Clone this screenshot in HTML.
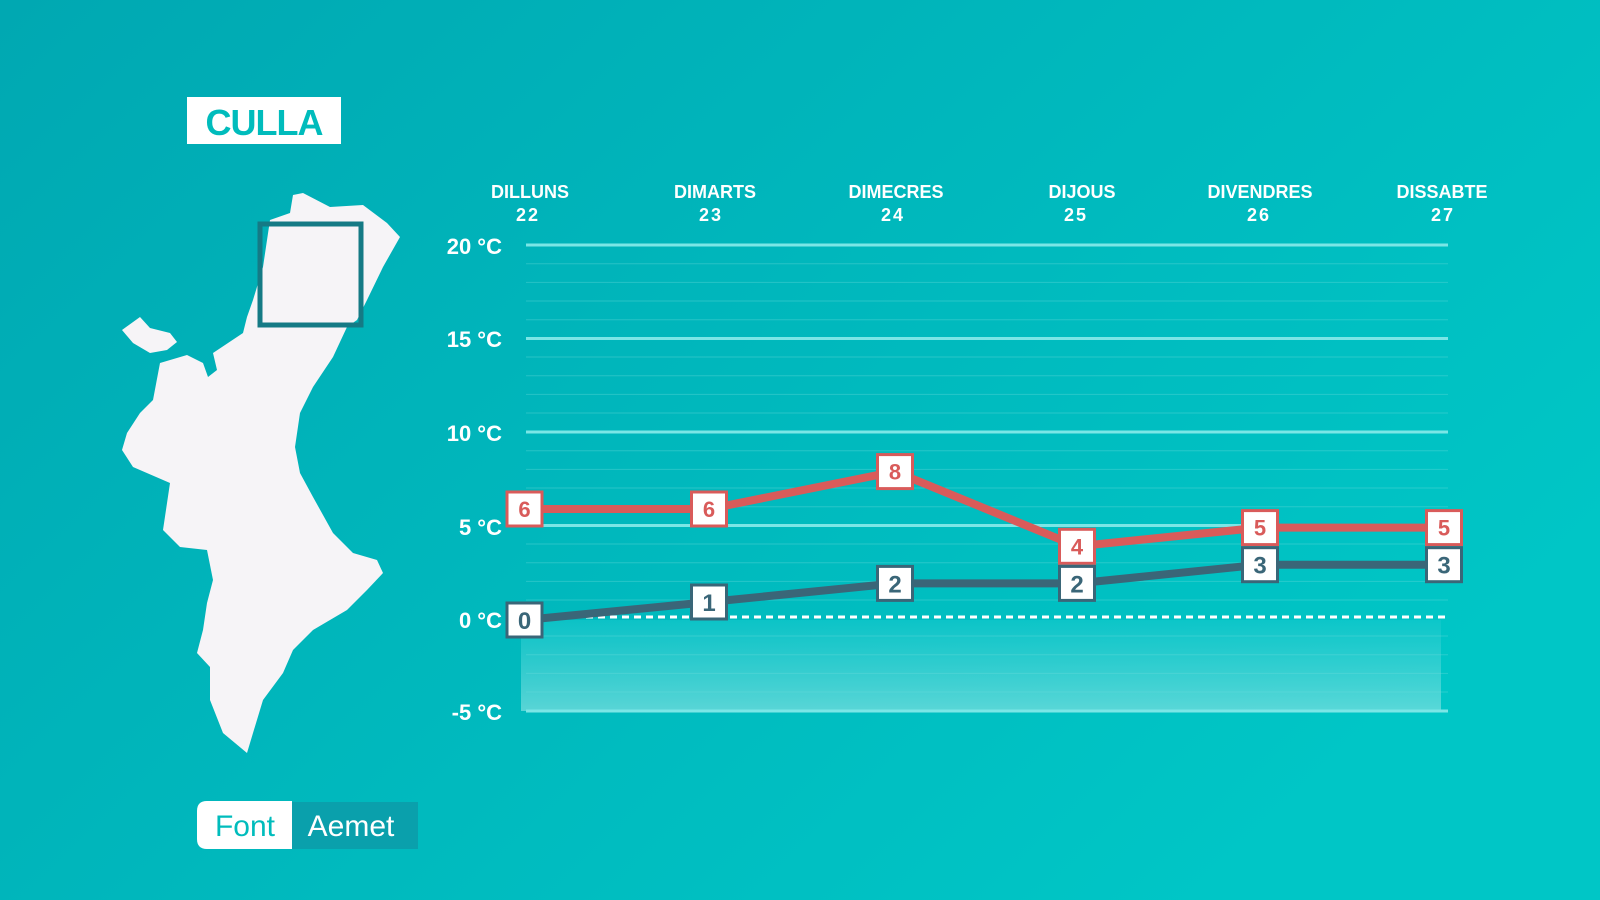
<!DOCTYPE html>
<html><head><meta charset="utf-8"><style>
html,body{margin:0;padding:0;width:1600px;height:900px;overflow:hidden}
svg{display:block}
text{font-family:"Liberation Sans",sans-serif;font-weight:bold}
</style></head><body>
<svg width="1600" height="900" viewBox="0 0 1600 900" xmlns="http://www.w3.org/2000/svg">
<defs>
<linearGradient id="bg" x1="0" y1="0" x2="1" y2="0.6">
<stop offset="0" stop-color="#00a8b2"/><stop offset="1" stop-color="#00c6c6"/>
</linearGradient>
<linearGradient id="neg" x1="0" y1="0" x2="0" y2="1">
<stop offset="0" stop-color="#14c8cc" stop-opacity="0.6"/><stop offset="1" stop-color="#7fe0e0" stop-opacity="0.7"/>
</linearGradient>
</defs>
<rect width="1600" height="900" fill="url(#bg)"/>
<!-- title -->
<rect x="187" y="97" width="154" height="47" fill="#fff"/>
<text x="264" y="135" text-anchor="middle" font-size="36" fill="#00bcbc" style="font-weight:900" letter-spacing="-1">CULLA</text>
<!-- map -->
<polygon fill="#f6f4f7" points="293,195 303,193 330,207 363,205 387,223 400,237 383,267 367,300 357,320 347,327 333,357 313,387 300,413 295,447 300,473 313,497 333,533 353,553 377,560 383,573 367,590 347,610 313,630 293,650 283,673 263,700 253,733 247,753 223,733 210,700 210,667 197,653 203,630 207,603 213,580 207,550 180,547 163,530 170,483 133,467 122,450 127,433 140,413 153,400 160,363 187,355 203,363 208,377 217,370 213,353 243,333 247,317 253,300 263,267 270,220 290,213"/>
<polygon fill="#f6f4f7" points="122,330 140,317 150,328 170,333 177,342 167,350 150,353 133,343"/>
<rect x="260" y="224" width="101" height="101" fill="none" stroke="#157a85" stroke-width="5"/>
<!-- source -->
<rect x="291" y="802" width="127" height="47" fill="#0aa0ac"/>
<path d="M207,801 H292 V849 H207 Q197,849 197,839 V811 Q197,801 207,801 Z" fill="#fff"/>
<text x="245" y="836" text-anchor="middle" font-size="30" fill="#00bcbc" style="font-weight:normal">Font</text>
<text x="351" y="836" text-anchor="middle" font-size="30" fill="#fff" style="font-weight:normal">Aemet</text>
<!-- below zero -->
<rect x="521" y="620" width="920" height="91" fill="url(#neg)"/>
<!-- minor grid -->
<g stroke="#6fdede" stroke-opacity="0.35" stroke-width="1">
<path d="M526,263.7H1448M526,282.4H1448M526,301H1448M526,319.7H1448M526,357H1448M526,375.7H1448M526,394.4H1448M526,413H1448M526,450.7H1448M526,469.4H1448M526,488H1448M526,506.7H1448M526,544H1448M526,562.7H1448M526,581.4H1448M526,600H1448M526,636H1448M526,654.7H1448M526,673.4H1448M526,692H1448"/>
</g>
<g stroke="#7be6e6" stroke-width="3">
<path d="M526,245H1448M526,338.5H1448M526,432H1448M526,525.5H1448M526,711H1448"/>
</g>
<path d="M526,617H1448" stroke="#fff" stroke-width="3" stroke-dasharray="7,5"/>
<!-- axis labels -->
<g font-size="22" fill="#fff" text-anchor="end">
<text x="502" y="254">20 °C</text>
<text x="502" y="347">15 °C</text>
<text x="502" y="441">10 °C</text>
<text x="502" y="535">5 °C</text>
<text x="502" y="628">0 °C</text>
<text x="502" y="720">-5 °C</text>
</g>
<!-- day labels -->
<g font-size="18" fill="#fff" text-anchor="middle">
<text x="530" y="198">DILLUNS</text><text x="528" y="221" letter-spacing="2">22</text>
<text x="715" y="198">DIMARTS</text><text x="711" y="221" letter-spacing="2">23</text>
<text x="896" y="198">DIMECRES</text><text x="893" y="221" letter-spacing="2">24</text>
<text x="1082" y="198">DIJOUS</text><text x="1076" y="221" letter-spacing="2">25</text>
<text x="1260" y="198">DIVENDRES</text><text x="1259" y="221" letter-spacing="2">26</text>
<text x="1442" y="198">DISSABTE</text><text x="1443" y="221" letter-spacing="2">27</text>
</g>
<!-- series -->
<polyline fill="none" stroke="#d95b5a" stroke-width="8" stroke-linejoin="round" points="524.5,509 709,509 895,471.6 1077,546.3 1260,527.6 1444,527.6"/>
<polyline fill="none" stroke="#3a6678" stroke-width="8" stroke-linejoin="round" points="524.5,620 709,602 895,583.4 1077,583.4 1260,564.7 1444,564.7"/>
<g font-size="22" text-anchor="middle">
<g stroke="#d95b5a" stroke-width="3" fill="#fff">
<rect x="507" y="492" width="35" height="34"/><rect x="691.5" y="492" width="35" height="34"/><rect x="877.5" y="454.6" width="35" height="34"/><rect x="1059.5" y="529.3" width="35" height="34"/><rect x="1242.5" y="510.6" width="35" height="34"/><rect x="1426.5" y="510.6" width="35" height="34"/>
</g>
<g fill="#d95b5a">
<text x="524.5" y="517">6</text><text x="709" y="517">6</text><text x="895" y="479.6">8</text><text x="1077" y="554.3">4</text><text x="1260" y="535.6">5</text><text x="1444" y="535.6">5</text>
</g>
<g stroke="#3a6678" stroke-width="3" fill="#fff">
<rect x="507" y="603" width="35" height="34"/><rect x="691.5" y="585" width="35" height="34"/><rect x="877.5" y="566.4" width="35" height="34"/><rect x="1059.5" y="566.4" width="35" height="34"/><rect x="1242.5" y="547.7" width="35" height="34"/><rect x="1426.5" y="547.7" width="35" height="34"/>
</g>
<g fill="#3a6678" font-size="24">
<text x="524.5" y="629">0</text><text x="709" y="611">1</text><text x="895" y="592.4">2</text><text x="1077" y="592.4">2</text><text x="1260" y="573.7">3</text><text x="1444" y="573.7">3</text>
</g>
</g>
</svg>
</body></html>
